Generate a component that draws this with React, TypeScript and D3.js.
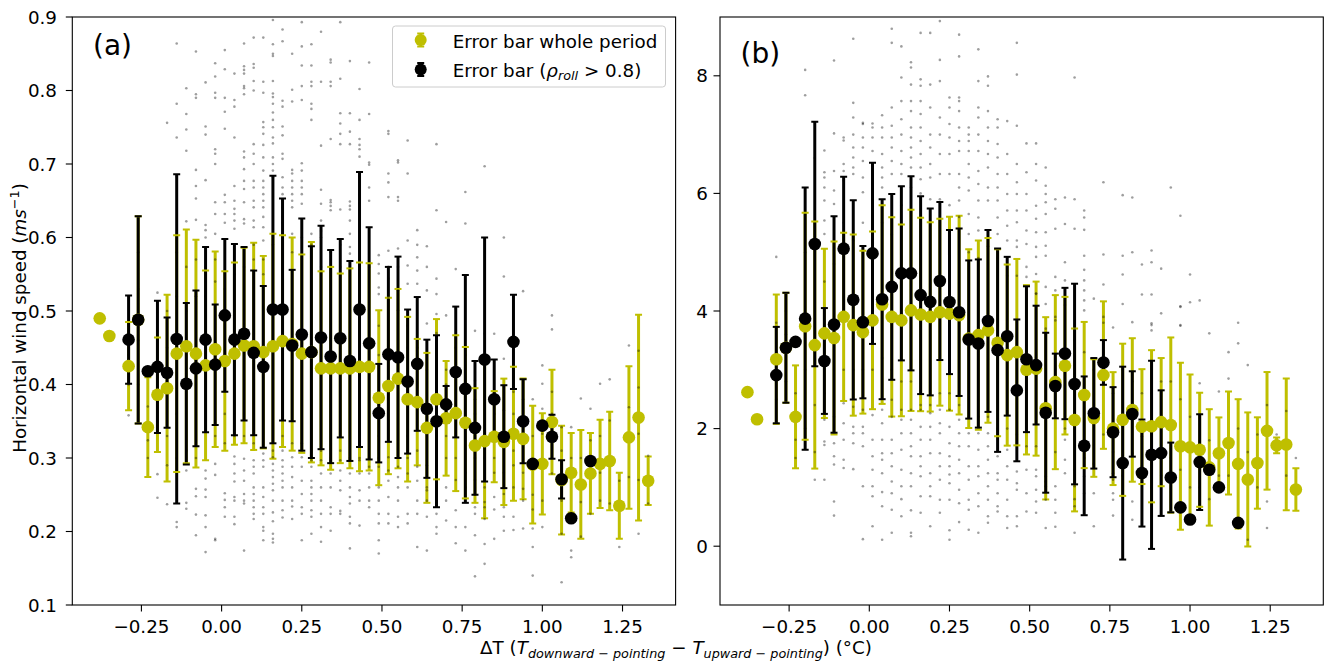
import React, { useEffect, useRef } from 'react';
import * as d3 from 'd3';

const W = 1325;
const H = 663;
const FONT = 'DejaVu Sans, Liberation Sans, sans-serif';
const FS = 18.3;
const YELLOW = '#bfbf00';

// bin centres of ΔT (°C)
const deltaT = [-0.38, -0.35, -0.32, -0.29, -0.26, -0.23, -0.2, -0.17, -0.14, -0.11, -0.08, -0.05, -0.02, 0.01,
  0.04, 0.07, 0.1, 0.13, 0.16, 0.19, 0.22, 0.25, 0.28, 0.31, 0.34, 0.37, 0.4, 0.43, 0.46, 0.49, 0.52, 0.55,
  0.58, 0.61, 0.64, 0.67, 0.7, 0.73, 0.76, 0.79, 0.82, 0.85, 0.88, 0.91, 0.94, 0.97, 1.0, 1.03, 1.06, 1.09,
  1.12, 1.15, 1.18, 1.21, 1.24, 1.27, 1.3, 1.33];

// panel (a): horizontal wind speed
const aWholeMean = [0.49, 0.466, null, 0.425, 0.488, 0.342, 0.386, 0.395, 0.442, 0.452, 0.442, 0.426, 0.448, 0.432,
  0.442, 0.453, 0.452, 0.444, 0.452, 0.459, 0.455, 0.442, 0.444, 0.422, 0.422, 0.422, 0.422, 0.424, 0.424, 0.382,
  0.398, 0.408, 0.38, 0.376, 0.341, 0.38, 0.354, 0.361, 0.348, 0.317, 0.323, 0.329, 0.322, 0.333, 0.326, 0.291,
  0.292, 0.349, 0.27, 0.28, 0.264, 0.279, 0.292, 0.296, 0.235, 0.328, 0.355, 0.269];
const aWholeErr = [0, 0, null, 0.06, 0.141, 0.068, 0.078, 0.127, 0.161, 0.159, 0.155, 0.129, 0.133, 0.122,
  0.124, 0.133, 0.141, 0.131, 0.153, 0.144, 0.145, 0.135, 0.15, 0.132, 0.138, 0.129, 0.136, 0.142, 0.141, 0.119,
  0.12, 0.122, 0.112, 0.086, 0.102, 0.109, 0.078, 0.106, 0.103, 0.078, 0.105, 0.062, 0.086, 0.091, 0.082, 0.08,
  0.069, 0.071, 0.074, 0.054, 0.074, 0.055, 0.06, 0.067, 0.045, 0.097, 0.14, 0.033];
const aRollMean = [null, null, null, 0.461, 0.488, 0.418, 0.424, 0.416, 0.462, 0.401, 0.422, 0.461, 0.427, 0.494,
  0.461, 0.469, 0.443, 0.424, 0.502, 0.502, 0.453, 0.468, 0.444, 0.464, 0.438, 0.463, 0.432, 0.502, 0.456, 0.361,
  0.441, 0.437, 0.404, 0.428, 0.367, 0.35, 0.373, 0.417, 0.394, 0.341, 0.434, 0.38, 0.329, 0.458, 0.35, 0.292,
  0.344, 0.329, 0.271, 0.218, null, 0.296, null, null, null, null, null, null];
const aRollErr = [null, null, null, 0.06, 0.141, 0, 0.09, 0.075, 0.224, 0.11, 0.106, 0.126, 0.082, 0.104,
  0.13, 0.118, 0.112, 0.11, 0.182, 0.151, 0.103, 0.158, 0.144, 0.152, 0.145, 0.135, 0.136, 0.187, 0.158, 0.067,
  0.119, 0.137, 0.098, 0.091, 0.094, 0.117, 0.025, 0.089, 0.155, 0.091, 0.166, 0.054, 0.07, 0.064, 0.057, 0,
  0, 0.03, 0.026, 0, null, 0, null, null, null, null, null, null];
const aSamples = [
  [], [], [], [0.358, 0.4, 0.44, 0.48], [0.4, 0.46, 0.53, 0.58], [0.324, 0.3, 0.37],
  [0.525, 0.278, 0.246, 0.35, 0.42, 0.46], [0.756, 0.237, 0.29, 0.33, 0.45, 0.5],
  [0.864, 0.782, 0.736, 0.683, 0.213, 0.206, 0.3, 0.36, 0.52, 0.58],
  [0.803, 0.768, 0.747, 0.718, 0.622, 0.283, 0.239, 0.231, 0.31, 0.5, 0.56],
  [0.853, 0.795, 0.79, 0.692, 0.67, 0.653, 0.624, 0.258, 0.248, 0.223, 0.195, 0.3, 0.52, 0.57],
  [0.811, 0.751, 0.74, 0.678, 0.617, 0.61, 0.6, 0.283, 0.272, 0.257, 0.247, 0.222, 0.206, 0.172, 0.52, 0.56],
  [0.837, 0.819, 0.797, 0.79, 0.72, 0.714, 0.7, 0.648, 0.632, 0.605, 0.292, 0.277, 0.19, 0.188, 0.33, 0.54, 0.57],
  [0.855, 0.829, 0.79, 0.771, 0.748, 0.658, 0.648, 0.632, 0.62, 0.252, 0.243, 0.233, 0.22, 0.32, 0.36, 0.53],
  [0.823, 0.787, 0.778, 0.736, 0.67, 0.65, 0.639, 0.632, 0.623, 0.612, 0.302, 0.292, 0.279, 0.268, 0.247, 0.242, 0.22, 0.21, 0.33, 0.55],
  [0.864, 0.833, 0.828, 0.823, 0.806, 0.803, 0.795, 0.717, 0.709, 0.693, 0.677, 0.666, 0.648, 0.625, 0.619, 0.299, 0.283, 0.269, 0.251, 0.242, 0.238, 0.174, 0.33, 0.56],
  [0.872, 0.836, 0.831, 0.813, 0.8, 0.727, 0.714, 0.7, 0.677, 0.668, 0.65, 0.641, 0.623, 0.614, 0.297, 0.288, 0.279, 0.26, 0.251, 0.242, 0.233, 0.224, 0.217, 0.32, 0.57, 0.59],
  [0.872, 0.812, 0.797, 0.757, 0.75, 0.741, 0.726, 0.709, 0.691, 0.677, 0.668, 0.659, 0.65, 0.641, 0.628, 0.614, 0.596, 0.306, 0.297, 0.288, 0.26, 0.247, 0.233, 0.224, 0.206, 0.201, 0.188, 0.55, 0.57],
  [0.896, 0.863, 0.85, 0.847, 0.813, 0.796, 0.791, 0.782, 0.77, 0.76, 0.75, 0.736, 0.728, 0.709, 0.7, 0.691, 0.682, 0.301, 0.292, 0.283, 0.274, 0.265, 0.256, 0.242, 0.226, 0.214, 0.197, 0.19, 0.185, 0.31, 0.59],
  [0.883, 0.867, 0.786, 0.778, 0.751, 0.739, 0.714, 0.707, 0.682, 0.668, 0.659, 0.65, 0.641, 0.628, 0.31, 0.297, 0.288, 0.279, 0.269, 0.26, 0.242, 0.229, 0.219, 0.33, 0.62],
  [0.85, 0.801, 0.785, 0.692, 0.687, 0.677, 0.668, 0.659, 0.65, 0.641, 0.605, 0.301, 0.288, 0.274, 0.26, 0.242, 0.234, 0.217, 0.32, 0.58],
  [0.893, 0.86, 0.834, 0.806, 0.787, 0.701, 0.691, 0.677, 0.668, 0.659, 0.646, 0.301, 0.288, 0.269, 0.251, 0.233, 0.224, 0.188, 0.32, 0.6],
  [0.863, 0.834, 0.812, 0.806, 0.782, 0.775, 0.76, 0.605, 0.297, 0.288, 0.269, 0.26, 0.251, 0.242, 0.229, 0.22, 0.197, 0.3, 0.59],
  [0.88, 0.812, 0.725, 0.665, 0.646, 0.623, 0.609, 0.297, 0.279, 0.26, 0.242, 0.224, 0.206, 0.186, 0.31, 0.56, 0.6],
  [0.842, 0.838, 0.812, 0.806, 0.734, 0.651, 0.648, 0.643, 0.637, 0.297, 0.279, 0.26, 0.233, 0.224, 0.201, 0.3, 0.58],
  [0.893, 0.816, 0.769, 0.755, 0.741, 0.727, 0.638, 0.297, 0.283, 0.269, 0.256, 0.228, 0.224, 0.31, 0.56, 0.59],
  [0.84, 0.769, 0.744, 0.727, 0.649, 0.643, 0.638, 0.623, 0.605, 0.587, 0.578, 0.297, 0.279, 0.26, 0.247, 0.238, 0.22, 0.211, 0.177, 0.3, 0.56],
  [0.802, 0.76, 0.734, 0.726, 0.72, 0.71, 0.682, 0.659, 0.646, 0.297, 0.279, 0.256, 0.242, 0.208, 0.3, 0.55],
  [0.838, 0.768, 0.702, 0.699, 0.668, 0.65, 0.288, 0.279, 0.26, 0.242, 0.233, 0.3, 0.56],
  [0.576, 0.564, 0.551, 0.532, 0.523, 0.288, 0.26, 0.242, 0.224, 0.211, 0.188, 0.17, 0.3, 0.33, 0.44, 0.48],
  [0.745, 0.741, 0.687, 0.675, 0.655, 0.582, 0.56, 0.544, 0.518, 0.301, 0.283, 0.269, 0.247, 0.224, 0.211],
  [0.705, 0.702, 0.655, 0.65, 0.585, 0.56, 0.528, 0.501, 0.288, 0.274, 0.26, 0.242, 0.22, 0.206],
  [0.732, 0.687, 0.596, 0.562, 0.537, 0.279, 0.26, 0.224, 0.211, 0.3, 0.33, 0.45, 0.48],
  [0.61, 0.59, 0.573, 0.555, 0.537, 0.288, 0.269, 0.242, 0.224, 0.179, 0.31, 0.45],
  [0.588, 0.56, 0.528, 0.483, 0.256, 0.242, 0.22, 0.174, 0.26, 0.29, 0.42],
  [0.727, 0.637, 0.544, 0.523, 0.496, 0.224, 0.206, 0.197, 0.28, 0.3, 0.47],
  [0.621, 0.494, 0.26, 0.242, 0.215, 0.3, 0.33, 0.4, 0.42],
  [0.557, 0.503, 0.229, 0.206, 0.184, 0.27, 0.3, 0.45],
  [0.662, 0.619, 0.206, 0.174, 0.26, 0.28, 0.44],
  [0.473, 0.405, 0.233, 0.224, 0.195, 0.139, 0.25, 0.27, 0.3, 0.36, 0.38],
  [0.697, 0.469, 0.233, 0.217, 0.183, 0.156, 0.24, 0.26, 0.3],
  [0.469, 0.247, 0.23, 0.19, 0.28, 0.3, 0.36],
  [0.6, 0.547, 0.435, 0.365, 0.251, 0.233, 0.22, 0.201, 0.26, 0.28],
  [0.22, 0.202, 0.26, 0.29, 0.31, 0.36, 0.39],
  [0.527, 0.258, 0.242, 0.204, 0.28, 0.38],
  [0.38, 0.204, 0.179, 0.14, 0.23, 0.25, 0.33],
  [0.426, 0.401, 0.367, 0.333, 0.288, 0.242, 0.206],
  [0.494, 0.475, 0.279, 0.3, 0.36, 0.39],
  [0.342, 0.31, 0.265, 0.242, 0.197, 0.131],
  [0.342, 0.174, 0.165, 0.3],
  [0.381, 0.193, 0.24, 0.3],
  [0.367, 0.324, 0.279, 0.224],
  [0.401, 0.242, 0.28, 0.33],
  [0.407, 0.351, 0.297, 0.238],
  [0.269, 0.179, 0.23],
  [0.453, 0.369, 0.274],
  [0.446, 0.396, 0.333, 0.197, 0.27],
  [0.303, 0.269, 0.238],
];

// panel (b)
const bWholeMean = [2.62, 2.16, null, 3.18, 3.375, 2.2, 3.74, 3.42, 3.62, 3.54, 3.9, 3.76, 3.64, 3.84,
  4.11, 3.9, 3.84, 4.01, 3.94, 3.9, 3.98, 3.955, 3.93, 3.53, 3.59, 3.67, 3.46, 3.25, 3.3, 3.0,
  3.02, 2.345, 2.79, 3.07, 2.147, 2.571, 2.18, 2.91, 2.0, 2.15, 2.317, 2.034, 2.04, 2.11, 2.06, 1.7,
  1.68, 1.64, 1.34, 1.58, 1.755, 1.4, 1.135, 1.415, 1.962, 1.715, 1.73, 0.965];
const bWholeErr = [0, 0, null, 1.1, 0.935, 0.875, 1.93, 2.1, 1.44, 1.64, 1.43, 1.54, 1.385, 1.51,
  1.69, 1.695, 1.63, 1.71, 1.644, 1.61, 1.59, 1.65, 1.69, 1.52, 1.61, 1.57, 1.59, 1.54, 1.585, 1.44,
  1.48, 1.55, 1.48, 1.17, 1.555, 1.243, 1.0, 1.254, 0.96, 1.294, 1.22, 0.977, 1.294, 1.09, 1.49, 1.42,
  1.24, 0.97, 0.99, 0.61, 0.876, 1.1, 1.14, 0.777, 1.0, 0.135, 1.12, 0.36];
const bRollMean = [null, null, null, 2.91, 3.375, 3.475, 3.87, 5.14, 3.15, 3.77, 5.06, 4.19, 3.81, 4.98,
  4.2, 4.41, 4.64, 4.64, 4.27, 4.155, 4.51, 4.153, 3.98, 3.515, 3.447, 3.83, 3.334, 3.571, 2.65, 3.18,
  3.08, 2.27, 2.725, 3.277, 2.758, 1.707, 2.26, 3.125, 1.939, 1.413, 2.249, 1.244, 1.554, 1.583, 1.169, 0.661,
  0.453, 1.43, 1.3, 1.0, null, 0.396, null, null, null, null, null, null];
const bRollErr = [null, null, null, 0.82, 0.935, 0, 2.23, 2.08, 0.9, 1.84, 1.225, 1.695, 1.295, 1.54,
  1.7, 1.58, 1.48, 1.65, 1.683, 1.59, 1.344, 1.226, 1.425, 1.345, 1.43, 1.546, 1.73, 1.35, 1.206, 1.24,
  1.01, 1.36, 0.55, 1.117, 1.706, 1.18, 0.94, 0.38, 0.766, 1.64, 0.726, 0.91, 1.6, 1.068, 0.593, 0,
  0, 0.814, 0, 0, null, 0, null, null, null, null, null, null];
const bSamples = [
  [], [], [], [4.92, 2.5, 3.3, 3.8], [2.8, 3.6, 4.0], [1.81, 1.5, 2.6], [8.1, 7.67, 2.0, 3.0, 5.0],
  [1.13, 1.6, 2.4, 6.6],
  [6.73, 6.36, 6.27, 6.1, 5.88, 5.54, 5.31, 2.15, 1.78, 1.72, 1.13, 2.6, 4.5],
  [8.26, 7.02, 6.38, 6.05, 5.82, 5.59, 1.75, 1.53, 1.39, 0.76, 0.52, 2.2, 4.8],
  [6.95, 6.9, 6.5, 6.38, 6.22, 2.43, 2.09, 1.81, 1.47, 1.33, 3.0, 5.5],
  [8.63, 7.54, 7.29, 7.0, 6.78, 6.61, 6.44, 6.33, 2.37, 2.03, 1.92, 1.75, 1.31, 3.0, 5.2],
  [7.2, 7.18, 6.95, 6.78, 6.55, 6.27, 6.02, 2.32, 2.03, 1.92, 1.7, 1.02, 0.12, 3.0, 5.5],
  [7.19, 7.12, 6.95, 6.72, 6.38, 6.16, 5.88, 2.23, 1.81, 1.53, 1.3, 1.02, 0.85, 0.34, 3.0, 5.6],
  [7.33, 7.12, 6.95, 6.67, 6.44, 6.27, 6.1, 2.32, 2.09, 1.81, 1.58, 1.47, 1.24, 0.92, 0.68, 0.11, 3.2, 5.5],
  [8.8, 8.56, 7.46, 7.15, 6.95, 6.78, 6.55, 6.33, 2.49, 2.2, 1.81, 1.58, 1.36, 1.1, 0.9, 0.62, 0.23, 3.0, 5.3],
  [8.5, 7.97, 7.57, 7.26, 7.0, 6.72, 6.5, 6.33, 2.32, 2.15, 1.92, 1.64, 1.3, 1.02, 0.8, 0.51, 2.8, 5.8],
  [8.23, 8.14, 7.85, 7.57, 7.4, 7.12, 6.95, 6.78, 6.61, 6.44, 2.32, 2.15, 1.92, 1.7, 1.53, 1.24, 1.02, 0.61, 0.23, 0.17, 2.8, 6.1],
  [8.73, 7.94, 7.83, 7.57, 7.35, 7.12, 6.89, 6.67, 6.44, 6.24, 2.32, 2.03, 1.81, 1.53, 1.36, 1.19, 0.85, 0.57, 2.4, 6.0],
  [8.73, 7.85, 7.46, 7.0, 6.78, 6.5, 6.27, 2.26, 2.03, 1.81, 1.58, 1.24, 1.02, 0.85, 0.34, 2.4, 5.9],
  [8.93, 8.27, 7.91, 7.29, 7.0, 6.67, 6.33, 2.32, 2.09, 1.92, 1.58, 1.36, 1.13, 0.79, 0.57, 2.6, 5.9],
  [7.63, 7.46, 7.18, 6.95, 6.67, 6.33, 2.32, 2.03, 1.75, 1.53, 1.36, 1.22, 1.07, 0.79, 0.27, 0.11, 2.6, 5.8],
  [8.7, 8.33, 7.63, 7.57, 7.4, 7.12, 6.89, 6.72, 6.33, 6.1, 5.88, 2.15, 1.92, 1.7, 1.47, 1.24, 0.96, 0.73, 0.41, 2.4, 5.6],
  [7.12, 7.0, 6.89, 6.72, 6.5, 6.27, 6.05, 5.65, 5.31, 1.92, 1.7, 1.36, 1.13, 0.79, 0.62, 0.28, 2.2, 5.0],
  [8.45, 7.91, 7.46, 7.29, 7.0, 6.72, 6.38, 6.16, 5.88, 5.59, 5.37, 1.92, 1.64, 1.36, 1.19, 0.9, 0.68, 0.23, 2.2, 4.9],
  [7.99, 7.83, 7.4, 7.12, 6.89, 6.67, 6.44, 6.1, 5.88, 1.92, 1.7, 1.47, 1.24, 1.02, 0.79, 0.51, 0.4, 2.2, 5.1],
  [7.26, 7.12, 6.84, 6.61, 6.33, 6.1, 5.88, 5.59, 5.31, 1.53, 1.24, 1.13, 0.9, 0.68, 0.59, 2.0, 4.9],
  [7.23, 6.67, 6.33, 5.99, 5.71, 5.45, 5.2, 1.64, 1.36, 1.13, 0.79, 0.51, 0.31, 2.0, 4.6],
  [8.56, 8.02, 7.15, 6.5, 6.19, 5.99, 5.71, 5.51, 5.2, 5.09, 1.27, 1.07, 0.96, 0.51, 0.34, 1.9, 4.6],
  [6.85, 6.36, 5.99, 5.71, 5.37, 5.14, 4.75, 4.58, 1.3, 0.9, 0.59, 1.7, 4.2],
  [6.85, 6.5, 6.22, 5.79, 5.57, 5.34, 5.09, 4.92, 4.63, 4.29, 1.3, 1.19, 0.96, 0.76, 0.57, 1.7, 4.3],
  [6.44, 6.13, 5.99, 5.85, 5.65, 5.34, 5.11, 4.94, 4.41, 4.12, 1.19, 1.02, 0.79, 0.31, 1.1, 3.7],
  [5.9, 5.74, 5.4, 4.58, 4.35, 3.84, 1.02, 0.79, 0.57, 0.33, 1.6, 3.9],
  [5.93, 5.48, 4.83, 4.52, 1.81, 1.47, 1.24, 2.0, 4.1],
  [7.97, 5.9, 5.4, 3.7, 1.3, 1.02, 0.68, 0.23, 0.8, 3.5],
  [5.71, 5.59, 5.38, 4.94, 4.7, 4.52, 4.35, 4.18, 4.01, 1.19, 0.9, 1.5, 3.3],
  [4.21, 0.9, 0.34, 1.4, 3.0],
  [6.19, 4.96, 4.45, 3.9, 1.9, 3.8],
  [3.72, 1.24, 1.13, 0.9, 0.79, 0.52, 1.6, 2.6],
  [5.97, 4.94, 4.62, 4.12, 1.2, 3.0],
  [5.93, 5.0, 3.81, 1.58, 0.76, 0.45, 2.8],
  [4.79, 4.28, 1.87, 1.36, 2.6],
  [5.03, 4.83, 4.28, 3.76, 3.79, 3.67, 1.0, 2.6],
  [4.72, 3.96, 1.2, 2.8],
  [6.1, 1.5, 2.8],
  [5.62, 4.07, 3.75, 4.08, 3.76, 1.3, 2.5],
  [4.62, 4.15, 1.0, 2.2],
  [4.18, 2.77, 1.0],
  [3.62, 0.8, 1.8],
  [2.63, 1.2],
  [3.3, 2.85, 1.2],
  [3.8, 3.45, 2.0],
  [3.08, 0.11, 1.6],
  [1.0, 1.9],
  [0.76, 0.31, 2.4],
  [1.9],
  [1.2, 2.3],
  [1.5],
];

const xTicks = [-0.25, 0, 0.25, 0.5, 0.75, 1.0, 1.25];
const aYTicks = [0.1, 0.2, 0.3, 0.4, 0.5, 0.6, 0.7, 0.8, 0.9];
const bYTicks = [0, 2, 4, 6, 8];

const panels = [
  { id: 'a', label: '(a)', left: 72.3, right: 675.6, yDomain: [0.1, 0.9], yTicks: aYTicks, yFmt: d3.format('.1f'),
    wholeMean: aWholeMean, wholeErr: aWholeErr, rollMean: aRollMean, rollErr: aRollErr, samples: aSamples,
    labelX: 93, labelY: 55, tickLabelX: 57 },
  { id: 'b', label: '(b)', left: 720, right: 1323.3, yDomain: [-1, 9], yTicks: bYTicks, yFmt: d3.format('d'),
    wholeMean: bWholeMean, wholeErr: bWholeErr, rollMean: bRollMean, rollErr: bRollErr, samples: bSamples,
    labelX: 740.5, labelY: 63, tickLabelX: 708 },
];

const TOP = 17;
const BOTTOM = 605;

const fmtTick = (v: number) => d3.format('.2f')(v).replace('-', '\u2212');

function App() {
  const ref = useRef<SVGSVGElement>(null);

  useEffect(() => {
    const svg = d3.select(ref.current);
    svg.selectAll('*').remove();
    svg.append('rect').attr('width', W).attr('height', H).attr('fill', 'white');

    panels.forEach(p => {
      const x = d3.scaleLinear().domain([-0.4655, 1.4155]).range([p.left, p.right]);
      const y = d3.scaleLinear().domain(p.yDomain).range([BOTTOM, TOP]);
      const g = svg.append('g');

      const clipId = 'clip-' + p.id;
      g.append('clipPath').attr('id', clipId)
        .append('rect').attr('x', p.left).attr('y', TOP).attr('width', p.right - p.left).attr('height', BOTTOM - TOP);
      const plot = g.append('g').attr('clip-path', `url(#${clipId})`);

      const whole = deltaT.map((d, i) => ({ x: d, m: p.wholeMean[i], e: p.wholeErr[i] })).filter(d => d.m != null);
      const roll = deltaT.map((d, i) => ({ x: d, m: p.rollMean[i], e: p.rollErr[i] })).filter(d => d.m != null);

      const bars = (data, color) => plot.append('g').selectAll('line').data(data.filter(d => d.e > 0)).join('line')
        .attr('x1', d => x(d.x)).attr('x2', d => x(d.x))
        .attr('y1', d => y(d.m - d.e)).attr('y2', d => y(d.m + d.e))
        .attr('stroke', color).attr('stroke-width', 3);
      const caps = (data, color) => {
        const cg = plot.append('g');
        data.filter(d => d.e > 0).forEach(d => {
          [d.m - d.e, d.m + d.e].forEach(v => {
            cg.append('line').attr('x1', x(d.x) - 3.5).attr('x2', x(d.x) + 3.5)
              .attr('y1', y(v)).attr('y2', y(v)).attr('stroke', color).attr('stroke-width', 2);
          });
        });
      };

      bars(whole, YELLOW);
      bars(roll, '#000');
      caps(whole, YELLOW);
      caps(roll, '#000');

      // raw samples
      const pts = p.samples.flatMap((arr, i) => arr.map(v => ({ x: deltaT[i], v })));
      plot.append('g').selectAll('circle').data(pts).join('circle')
        .attr('cx', d => x(d.x)).attr('cy', d => y(d.v)).attr('r', 1.3)
        .attr('fill', '#000').attr('fill-opacity', 0.38);

      plot.append('g').selectAll('circle').data(whole).join('circle')
        .attr('cx', d => x(d.x)).attr('cy', d => y(d.m)).attr('r', 6.3).attr('fill', YELLOW);
      plot.append('g').selectAll('circle').data(roll).join('circle')
        .attr('cx', d => x(d.x)).attr('cy', d => y(d.m)).attr('r', 6.3).attr('fill', '#000');

      // spines
      g.append('rect').attr('x', p.left).attr('y', TOP).attr('width', p.right - p.left).attr('height', BOTTOM - TOP)
        .attr('fill', 'none').attr('stroke', '#000').attr('stroke-width', 1.1);

      // x ticks
      xTicks.forEach(t => {
        g.append('line').attr('x1', x(t)).attr('x2', x(t)).attr('y1', BOTTOM).attr('y2', BOTTOM + 6.5)
          .attr('stroke', '#000').attr('stroke-width', 1.1);
        g.append('text').attr('x', x(t)).attr('y', 632.7).attr('text-anchor', 'middle')
          .attr('font-family', FONT).attr('font-size', FS).attr('fill', '#000').text(fmtTick(t));
      });
      // y ticks
      p.yTicks.forEach(t => {
        g.append('line').attr('x1', p.left - 6.5).attr('x2', p.left).attr('y1', y(t)).attr('y2', y(t))
          .attr('stroke', '#000').attr('stroke-width', 1.1);
        g.append('text').attr('x', p.tickLabelX).attr('y', y(t) + 6.6).attr('text-anchor', 'end')
          .attr('font-family', FONT).attr('font-size', FS).attr('fill', '#000').text(p.yFmt(t));
      });

      g.append('text').attr('x', p.labelX).attr('y', p.labelY).attr('font-family', FONT)
        .attr('font-size', 28).attr('fill', '#000').text(p.label);
    });

    // y label
    const yl = svg.append('text').attr('transform', 'translate(26,318) rotate(-90)').attr('text-anchor', 'middle')
      .attr('font-family', FONT).attr('font-size', FS).attr('fill', '#000');
    yl.append('tspan').text('Horizontal wind speed (');
    yl.append('tspan').attr('font-style', 'italic').text('ms');
    yl.append('tspan').attr('font-size', 12.8).attr('dy', -7).text('\u22121');
    yl.append('tspan').attr('dy', 7).text(')');

    // x label
    const xl = svg.append('text').attr('x', 676).attr('y', 654).attr('text-anchor', 'middle')
      .attr('font-family', FONT).attr('font-size', FS).attr('fill', '#000');
    xl.append('tspan').text('\u0394T (');
    xl.append('tspan').attr('font-style', 'italic').text('T');
    xl.append('tspan').attr('font-size', 12.8).attr('dy', 3.6).attr('font-style', 'italic').text('downward');
    xl.append('tspan').attr('font-size', 12.8).text(' \u2212 ');
    xl.append('tspan').attr('font-size', 12.8).attr('font-style', 'italic').text('pointing');
    xl.append('tspan').attr('dy', -3.6).text(' \u2212 ');
    xl.append('tspan').attr('font-style', 'italic').text('T');
    xl.append('tspan').attr('font-size', 12.8).attr('dy', 3.6).attr('font-style', 'italic').text('upward');
    xl.append('tspan').attr('font-size', 12.8).text(' \u2212 ');
    xl.append('tspan').attr('font-size', 12.8).attr('font-style', 'italic').text('pointing');
    xl.append('tspan').attr('dy', -3.6).text(') (\u00b0C)');

    // legend
    const lg = svg.append('g');
    lg.append('rect').attr('x', 392.5).attr('y', 26).attr('width', 273).attr('height', 61).attr('rx', 3)
      .attr('fill', 'white').attr('fill-opacity', 0.8).attr('stroke', '#cccccc').attr('stroke-width', 1);
    const entries = [
      { color: YELLOW, cy: 40, by: 48.2, text: 'whole' },
      { color: '#000', cy: 69.5, by: 76.7, text: 'roll' },
    ];
    entries.forEach(en => {
      const mx = 420.7;
      lg.append('line').attr('x1', mx).attr('x2', mx).attr('y1', en.cy - 6.5).attr('y2', en.cy + 6.5)
        .attr('stroke', en.color).attr('stroke-width', 2.5);
      [en.cy - 6.5, en.cy + 6.5].forEach(v => lg.append('line').attr('x1', mx - 3.5).attr('x2', mx + 3.5)
        .attr('y1', v).attr('y2', v).attr('stroke', en.color).attr('stroke-width', 2));
      lg.append('circle').attr('cx', mx).attr('cy', en.cy).attr('r', 6).attr('fill', en.color);
      const t = lg.append('text').attr('x', 452.7).attr('y', en.by).attr('font-family', FONT)
        .attr('font-size', FS).attr('fill', '#000');
      if (en.text === 'whole') {
        t.text('Error bar whole period');
      } else {
        t.append('tspan').text('Error bar (');
        t.append('tspan').attr('font-style', 'italic').text('\u03c1');
        t.append('tspan').attr('font-style', 'italic').attr('font-size', 12.8).attr('dy', 3.6).text('roll');
        t.append('tspan').attr('dy', -3.6).text(' > 0.8)');
      }
    });
  }, []);

  return (
    <svg ref={ref} width={W} height={H} style={{ position: 'absolute', left: 0, top: 0 }} />
  );
}

export default App;
